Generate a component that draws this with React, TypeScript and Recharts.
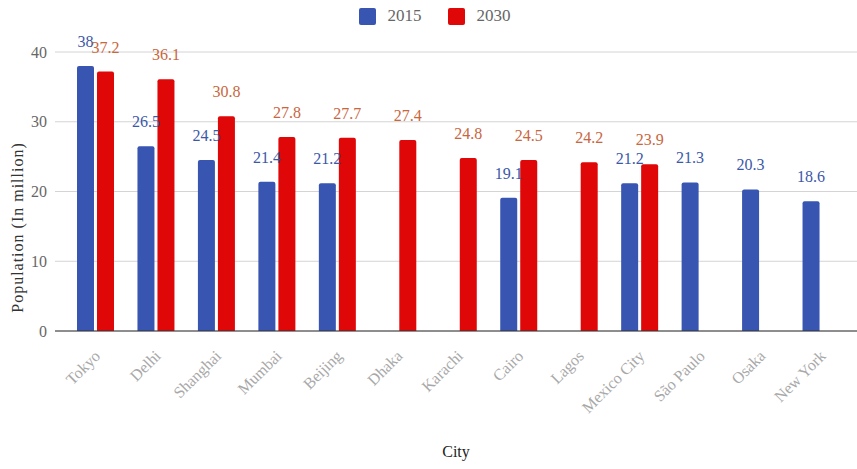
import { BarChart, Bar, XAxis, YAxis, CartesianGrid, Legend, LabelList, Label } from 'recharts'

const cities = ['Tokyo', 'Delhi', 'Shanghai', 'Mumbai', 'Beijing', 'Dhaka', 'Karachi', 'Cairo', 'Lagos', 'Mexico City', 'São Paulo', 'Osaka', 'New York']
const pop2015: (number | null)[] = [38, 26.5, 24.5, 21.4, 21.2, null, null, 19.1, null, 21.2, 21.3, 20.3, 18.6]
const pop2030: (number | null)[] = [37.2, 36.1, 30.8, 27.8, 27.7, 27.4, 24.8, 24.5, 24.2, 23.9, null, null, null]
const yTicks = [0, 10, 20, 30, 40]

const BLUE = '#3955b2'
const RED = '#df0707'
const FONT = '"Liberation Serif", "Times New Roman", serif'

const data = cities.map((c, i) => ({ city: c, y2015: pop2015[i], y2030: pop2030[i] }))

const CityTick = ({ x, y, payload }: any) => (
  <text x={x + 6} y={y + 18} transform={`rotate(-45, ${x + 6}, ${y + 18})`} textAnchor="end"
    fill="#a8a8a8" fontSize={16} fontFamily={FONT}>
    {payload.value}
  </text>
)

const LegendBox = ({ payload }: any) => (
  <div style={{ display: 'flex', justifyContent: 'center', gap: 26, marginLeft: 12, fontFamily: FONT, fontSize: 17, color: '#666' }}>
    {(payload || []).map((p: any) => (
      <div key={p.value} style={{ display: 'flex', alignItems: 'center' }}>
        <span style={{ width: 17, height: 17, background: p.color, borderRadius: 2, marginRight: 12, display: 'inline-block' }} />
        <span>{p.value}</span>
      </div>
    ))}
  </div>
)

const YTitle = ({ viewBox }: any) => {
  const cx = 17
  const cy = viewBox.y + viewBox.height / 2 + 36
  return (
    <text x={cx} y={cy} transform={`rotate(-90, ${cx}, ${cy})`} textAnchor="middle" dominantBaseline="central"
      fill="#333" fontSize={16} letterSpacing={1} fontFamily={FONT}>
      Population (In million)
    </text>
  )
}

export default function App() {
  return (
    <div style={{ position: 'absolute', left: 0, top: 0, background: '#fff' }}>
      <BarChart width={857} height={469} data={data} barSize={17} barGap={3}
        margin={{ top: 6, right: 0, left: 0, bottom: 0 }} style={{ fontFamily: FONT }}>
        <CartesianGrid vertical={false} stroke="#d4d4d4" />
        <Legend verticalAlign="top" align="center" height={46} content={<LegendBox />} />
        <XAxis dataKey="city" interval={0} height={138} padding={{ left: 10, right: 6 }}
          tickLine={false} axisLine={{ stroke: '#333' }} tick={<CityTick />}>
          <Label value="City" position="insideBottom" offset={12} fill="#222" fontSize={16} fontFamily={FONT} />
        </XAxis>
        <YAxis width={55} domain={[0, 40]} ticks={yTicks} axisLine={false} tickLine={false}
          tick={{ fill: '#666', fontSize: 16, fontFamily: FONT }}>
          <Label content={<YTitle />} />
        </YAxis>
        <Bar dataKey="y2015" name="2015" fill={BLUE} radius={[2, 2, 0, 0]} isAnimationActive={false}>
          <LabelList dataKey="y2015" position="top" offset={19} fill="#3b58a8" fontSize={16} fontFamily={FONT} />
        </Bar>
        <Bar dataKey="y2030" name="2030" fill={RED} radius={[2, 2, 0, 0]} isAnimationActive={false}>
          <LabelList dataKey="y2030" position="top" offset={19} fill="#c8663e" fontSize={16} fontFamily={FONT} />
        </Bar>
      </BarChart>
    </div>
  )
}
